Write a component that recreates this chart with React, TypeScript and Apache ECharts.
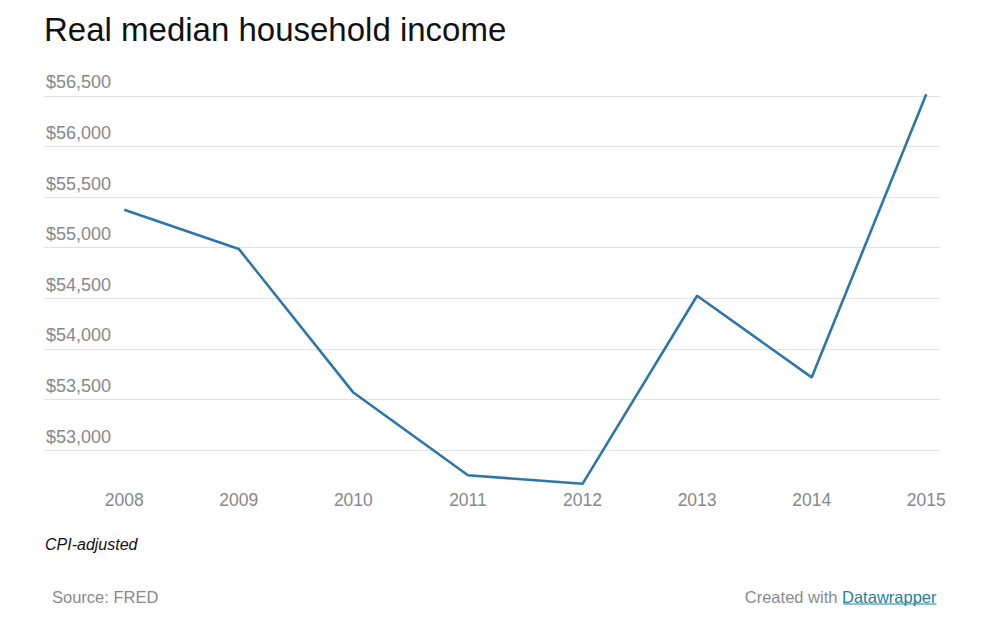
import React, { useEffect, useRef } from "react";
import * as echarts from "echarts";

const years = [2008, 2009, 2010, 2011, 2012, 2013, 2014, 2015];
const income = [55376, 54988, 53568, 52751, 52666, 54525, 53718, 56516];
const yTicks = [53000, 53500, 54000, 54500, 55000, 55500, 56000, 56500];

const TITLE = "Real median household income";
const NOTE = "CPI-adjusted";
const SOURCE = "Source: FRED";
const CREDIT_PREFIX = "Created with ";
const CREDIT_LINK = "Datawrapper";

const FONT = "'Liberation Sans', Arial, Helvetica, sans-serif";

export default function App() {
  const ref = useRef<HTMLDivElement>(null);
  useEffect(() => {
    if (!ref.current) return;
    const chart = echarts.init(ref.current, undefined, { renderer: "svg" });
    chart.setOption({
      animation: false,
      backgroundColor: "#ffffff",
      title: {
        text: TITLE,
        left: 44,
        top: 13,
        padding: 0,
        textStyle: {
          fontFamily: FONT,
          fontSize: 33,
          fontWeight: "normal",
          color: "#111111",
        },
      },
      grid: {
        left: 44,
        right: 47,
        top: 45.4,
        bottom: 137.4,
        containLabel: false,
        outerBoundsMode: "none",
      },
      xAxis: {
        type: "value",
        min: 2007.3,
        max: 2015.12,
        axisLine: { show: false },
        axisTick: { show: false },
        splitLine: { show: false },
        axisLabel: {
          customValues: years,
          formatter: (v: number) => String(v),
          color: "#888888",
          fontFamily: FONT,
          fontSize: 17.5,
          margin: -10,
        },
      },
      yAxis: {
        type: "value",
        min: 52500,
        max: 57000,
        interval: 500,
        axisLine: { show: false },
        axisTick: { show: false },
        axisLabel: {
          inside: true,
          showMinLabel: false,
          showMaxLabel: false,
          margin: 2,
          color: "#888888",
          fontFamily: FONT,
          fontSize: 18,
          verticalAlign: "bottom",
          lineHeight: 27,
          formatter: (v: number) =>
            yTicks.includes(v) ? "$" + v.toLocaleString("en-US") : "",
        },
        splitLine: {
          show: true,
          showMinLine: false,
          showMaxLine: false,
          lineStyle: { color: "#e2e2e2", width: 1.2 },
        },
      },
      series: [
        {
          type: "line",
          data: years.map((y, i) => [y, income[i]]),
          symbol: "none",
          lineStyle: { color: "#2e76aa", width: 2.6 },
          clip: false,
        },
      ],
      graphic: [
        {
          type: "text",
          x: 45,
          y: 544,
          style: {
            text: NOTE,
            fill: "#111111",
            font: `italic 16px ${FONT}`,
            align: "left",
            verticalAlign: "middle",
          },
        },
        {
          type: "text",
          x: 52,
          y: 597,
          style: {
            text: SOURCE,
            fill: "#8a8a8a",
            font: `16.5px ${FONT}`,
            align: "left",
            verticalAlign: "middle",
          },
        },
        {
          type: "text",
          x: 842,
          y: 597,
          style: {
            text: CREDIT_PREFIX,
            fill: "#8a8a8a",
            font: `16.5px ${FONT}`,
            align: "right",
            verticalAlign: "middle",
          },
        },
        {
          type: "text",
          x: 936.5,
          y: 597,
          style: {
            text: CREDIT_LINK,
            fill: "#1d81a2",
            font: `16.5px ${FONT}`,
            align: "right",
            verticalAlign: "middle",
          },
        },
        {
          type: "line",
          shape: { x1: 843, y1: 604, x2: 936.5, y2: 604 },
          style: { stroke: "#1d81a2", lineWidth: 1 },
        },
      ],
    });
    return () => chart.dispose();
  }, []);
  return (
    <div
      style={{
        position: "fixed",
        left: 0,
        top: 0,
        width: 987,
        height: 638,
        background: "#ffffff",
      }}
    >
      <div ref={ref} style={{ width: 987, height: 638 }} />
    </div>
  );
}
